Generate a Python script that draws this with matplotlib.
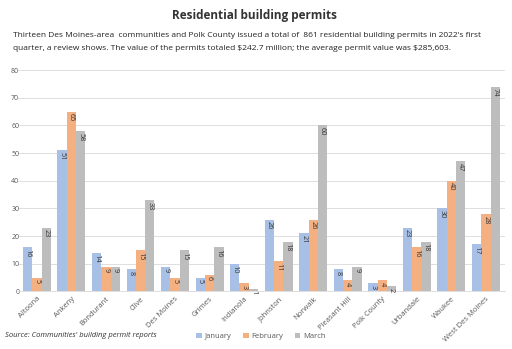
import matplotlib.pyplot as plt
import numpy as np

# 各社区一季度住宅建筑许可数
cities = ['Altoona', 'Ankeny', 'Bondurant', 'Clive', 'Des Moines', 'Grimes',
          'Indianola', 'Johnston', 'Norwalk', 'Pleasant Hill', 'Polk County',
          'Urbandale', 'Waukee', 'West Des Moines']
january = [16, 51, 14, 8, 9, 5, 10, 26, 21, 8, 3, 23, 30, 17]
february = [5, 65, 9, 15, 5, 6, 3, 11, 26, 4, 4, 16, 40, 28]
march = [23, 58, 9, 33, 15, 16, 1, 18, 60, 9, 2, 18, 47, 74]
months = ['January', 'February', 'March']
colors = ['#A9C0E6', '#F5B082', '#BDBDBD']

plt.rcParams['font.family'] = ['Open Sans', 'DejaVu Sans']

fig = plt.figure(figsize=(5.12, 3.49), dpi=100)
ax = fig.add_axes([0.035, 0.165, 0.951, 0.634])

x = np.arange(len(cities))
w = 0.27
for i, (vals, name, c) in enumerate(zip([january, february, march], months, colors)):
    bars = ax.bar(x + (i - 1) * w, vals, w, color=c, label=name)
    for b, v in zip(bars, vals):
        ax.text(b.get_x() + b.get_width() / 2, v - 0.6, str(v), rotation=-90,
                ha='center', va='top', fontsize=5.3, color='#333333')

ax.set_xlim(-0.55, len(cities) - 0.45)
ax.set_ylim(0, 80)
ax.set_yticks(np.arange(0, 81, 10))
ax.grid(axis='y', color='#D9D9D9', linewidth=0.6)
ax.set_axisbelow(True)
for s in ['top', 'right', 'left']:
    ax.spines[s].set_visible(False)
ax.spines['bottom'].set_color('#D9D9D9')
ax.spines['bottom'].set_linewidth(0.6)
ax.tick_params(axis='both', length=0, labelsize=5, colors='#595959')
ax.set_xticks(x)
ax.set_xticklabels(cities, rotation=45, ha='right', rotation_mode='anchor', fontsize=5.5)
ax.tick_params(axis='y', pad=-1)
ax.tick_params(axis='x', pad=3)

# 标题和说明文字
fig.text(0.498, 0.957, 'Residential building permits', ha='center', va='center',
         fontsize=8.5, fontweight='bold', color='#333333')
fig.text(0.025, 0.898, "Thirteen Des Moines-area  communities and Polk County issued a total of  861 residential building permits in 2022's first",
         ha='left', va='center', fontsize=6.0, color='#222222')
fig.text(0.025, 0.862, r'quarter, a review shows. The value of the permits totaled \$242.7 million; the average permit value was \$285,603.',
         ha='left', va='center', fontsize=6.0, color='#222222')
fig.text(0.01, 0.04, "Source: Communities' building permit reports", ha='left', va='center',
         fontsize=5.5, style='italic', color='#333333')

fig.legend(loc='center', bbox_to_anchor=(0.51, 0.035), ncol=3, frameon=False,
           fontsize=5.5, handlelength=0.7, handleheight=0.7, handletextpad=0.4,
           columnspacing=1.5, labelcolor='#595959')

plt.savefig('out.png', dpi=100)
